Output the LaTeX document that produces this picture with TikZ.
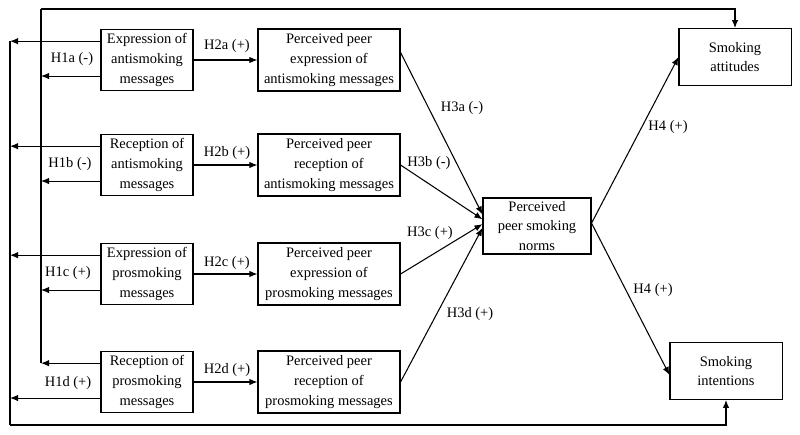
\documentclass[tikz,border=0pt]{standalone}
\usepackage{fontspec}
\setmainfont{Liberation Serif}
\usetikzlibrary{arrows.meta}

\begin{document}
\begin{tikzpicture}[x=0.025cm, y=-0.025cm, line width=0.75pt,
        >={Latex[length=2mm,width=1.6mm]},
        every edge/.style={draw, ->}
    ]
    \useasboundingbox (0,0) rectangle (800,434);
    \begin{scope}[
            every node/.style={draw, align=center, inner sep=1pt,
                font=\fontsize{10.3}{14}\selectfont},
            srcbox/.style={minimum width=2.3cm, minimum height=1.53cm},
            peerbox/.style={minimum width=3.55cm, minimum height=1.55cm},
            outbox/.style={minimum width=2.8cm, minimum height=1.42cm}
        ]

        \node[srcbox] (ea) at (147,60) {Expression of\\antismoking\\messages};
        \node[srcbox] (ra) at (147,165) {Reception of\\antismoking\\messages};
        \node[srcbox] (ep) at (147,274) {Expression of\\prosmoking\\messages};
        \node[srcbox] (rp) at (147,382) {Reception of\\prosmoking\\messages};

        \node[peerbox] (pea) at (329,60) {Perceived peer\\expression of\\antismoking messages};
        \node[peerbox] (pra) at (329,165) {Perceived peer\\reception of\\antismoking messages};
        \node[peerbox] (pep) at (329,274) {Perceived peer\\expression of\\prosmoking messages};
        \node[peerbox] (prp) at (329,382) {Perceived peer\\reception of\\prosmoking messages};

        \node[minimum width=2.7cm, minimum height=1.4cm] (norms) at (537,226) {Perceived\\peer smoking\\norms};

        \node[outbox] (att) at (735,57) {Smoking\\attitudes};
        \node[outbox] (int) at (726,371) {Smoking\\intentions};
    \end{scope}

    \begin{scope}[every node/.style={font=\fontsize{10.3}{14}\selectfont}]
        \node (l1a) at (72,59) {H1a (-)};
        \node (l1b) at (70,164) {H1b (-)};
        \node (l1c) at (68,273) {H1c (+)};
        \node (l1d) at (68,383) {H1d (+)};

        \node (l2a) at (227,46) {H2a (+)};
        \node (l2b) at (227,153) {H2b (+)};
        \node (l2c) at (227,263) {H2c (+)};
        \node (l2d) at (227,370) {H2d (+)};

        \node (l3a) at (462,108) {H3a (-)};
        \node (l3b) at (429,163) {H3b (-)};
        \node (l3c) at (430,233) {H3c (+)};
        \node (l3d) at (470,314) {H3d (+)};

        \node (l4a) at (668,127) {H4 (+)};
        \node (l4b) at (653,290) {H4 (+)};
    \end{scope}

    \coordinate (intop) at (41,9);
    \coordinate (inbot) at (41,363);
    \coordinate (outtop) at (10,41);
    \coordinate (outbot) at (10,425);

    % two paths back to the outcomes
    \draw (intop) -- (inbot);
    \draw (outtop) -- (outbot);
    \draw[->] (intop) -| (att.north);
    \draw[->] (outbot) -| (int.south);

    \draw (ea.158) edge (ea.158 -| outtop);
    \draw (ea.199) edge (ea.199 -| intop);
    \draw (ra.158) edge (ra.158 -| outtop);
    \draw (ra.199) edge (ra.199 -| intop);
    \draw (ep.158) edge (ep.158 -| outtop);
    \draw (ep.199) edge (ep.199 -| intop);
    \draw (rp.158) edge (rp.158 -| intop);
    \draw (rp.199) edge (rp.199 -| outtop);

    \draw (ea) edge (pea);
    \draw (ra) edge (pra);
    \draw (ep) edge (pep);
    \draw (rp) edge (prp);

    \draw (pea.6) edge (norms.168);
    \draw (pra.east) edge (norms.173);
    \draw (pep.east) edge (norms.178);
    \draw (prp.east) edge (norms.182);

    \draw (norms.3) edge (att.west);
    \draw (norms.3) edge (int.184);
\end{tikzpicture}
\end{document}
